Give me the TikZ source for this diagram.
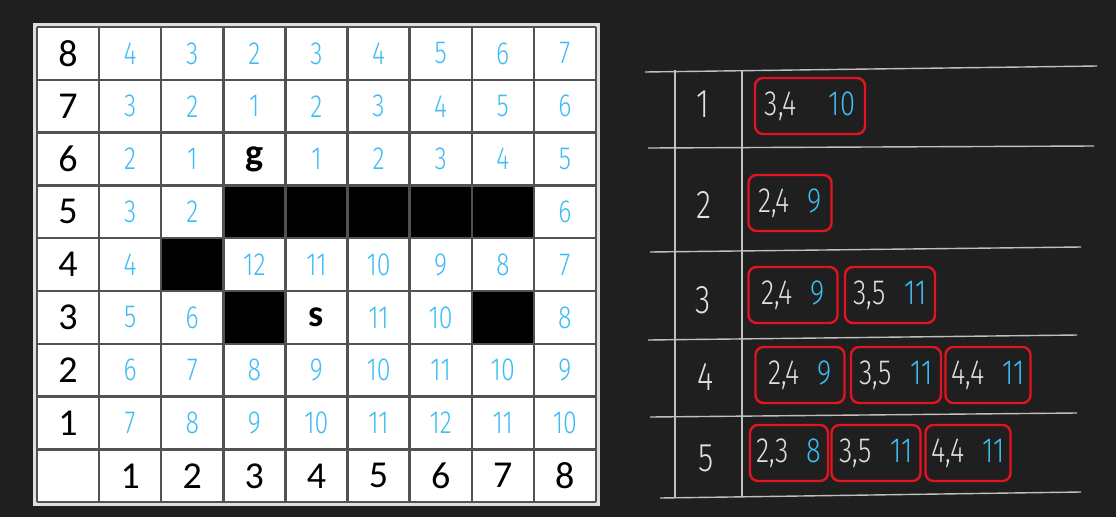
\documentclass[tikz,border=0pt]{standalone}
\usepackage{fontspec}
\setmainfont{Carlito}
\newfontfamily\hand{Fira Sans}[UprightFont=* Light, FakeStretch=0.78]
\usetikzlibrary{positioning}

\definecolor{board}{RGB}{31,31,31}
\definecolor{penblue}{RGB}{62,188,245}
\definecolor{penred}{RGB}{226,20,32}
\definecolor{penwhite}{RGB}{225,225,225}
\definecolor{rulegray}{RGB}{192,192,192}
\definecolor{gridgray}{RGB}{82,82,82}

% one queue entry: cell, then its cost
\newcommand{\entry}[3][18pt]{{\color{penwhite}#2}\hspace{#1}{\color{penblue}#3}}

\begin{document}
\begin{tikzpicture}[x=1pt, y=-1pt, node distance=90pt,
                    cost/.style={text=penblue, inner sep=0pt, font=\hand\fontsize{32}{32}\selectfont},
                    axis/.style={text=black, inner sep=0pt, font=\fontsize{38}{38}\selectfont},
                    letter/.style={text=black, inner sep=0pt, font=\bfseries\fontsize{38}{38}\selectfont},
                    wall/.style={fill=black},
                    gridline/.style={draw=gridgray, line width=2.4pt},
                    tabline/.style={draw=rulegray, line width=1.4pt},
                    stepnum/.style={text=penwhite, font=\hand\fontsize{40}{40}\selectfont},
                    pair/.style={draw=penred, line width=2.4pt, rounded corners=8pt,
                                 minimum height=56pt, minimum width=#1, inner xsep=6pt,
                                 font=\hand\fontsize{35}{35}\selectfont},
                    pair/.default=86pt]
  \fill[board] (0,0) rectangle (1116,517);

  % grid with costs
  \fill[gray!25] (33,23) rectangle (600,506);
  \fill[white] (37,27) rectangle (596,502);
  \begin{scope}[shift={(37,27)}, x=62.1pt, y=-52.8pt]
    \foreach \c/\r in {3/3,4/3,5/3,6/3,7/3,2/4,3/5,7/5}
      \fill[wall] (\c,\r) rectangle ++(1,1);
    \foreach \i in {0,...,9} {
      \draw[gridline] (\i,0) -- (\i,9);
      \draw[gridline] (0,\i) -- (9,\i);
    }
    \foreach \k in {1,...,8} {
      \node[axis] (row\k) at (0.5,8.5-\k) {\k};
      \node[axis] (col\k) at (\k+0.5,8.5) {\k};
    }
    \foreach \r/\vals in {0/{4,3,2,3,4,5,6,7}, 1/{3,2,1,2,3,4,5,6},
                          2/{2,1,0,1,2,3,4,5}, 3/{3,2,0,0,0,0,0,6},
                          4/{4,0,12,11,10,9,8,7}, 5/{5,6,0,0,11,10,0,8},
                          6/{6,7,8,9,10,11,10,9}, 7/{7,8,9,10,11,12,11,10}}
      \foreach \v [count=\c] in \vals {
        \ifnum\v>0 \node[cost] (cost-\c-\r) at (\c+0.5,\r+0.5) {\v};\fi
      };
    \node[letter] (goal) at (3.5,2.5) {g};
    \node[letter] (start) at (4.5,5.5) {s};
  \end{scope}

  % table of queue states
  \draw[tabline] (645,72) -- (1097,66);
  \draw[tabline] (648,148) -- (1094,146);
  \draw[tabline] (650,252) -- (1081,247);
  \draw[tabline] (648,340) -- (1077,335);
  \draw[tabline] (650,417) -- (1077,413);
  \draw[tabline] (660,498) -- (1081,492);
  \draw[tabline] (675,70) -- (675,497);
  \draw[tabline] (742,70) -- (742,496);

  \node[stepnum] (step1) at (703,104) {1};
  \node[stepnum] (step2) at (704,205) {2};
  \node[stepnum] (step3) at (703,300) {3};
  \node[stepnum] (step4) at (706,377) {4};
  \node[stepnum] (step5) at (706,458) {5};

  \node[pair=110pt] (q1a) at (810,106) {\entry[32pt]{3,4}{10}};
  \node[pair=83pt] (q2a) at (790,203) {\entry{2,4}{9}};
  \node[pair=89pt] (q3a) at (793,295) {\entry{2,4}{9}};
  \node[pair=90pt, right of=q3a, node distance=97pt] (q3b) {\entry{3,5}{11}};
  \node[pair=89pt] (q4a) at (800,375) {\entry{2,4}{9}};
  \node[pair=90pt, right of=q4a, node distance=96pt] (q4b) {\entry{3,5}{11}};
  \node[pair=80pt, right of=q4b, node distance=92pt] (q4c) {\entry{4,4}{11}};
  \node[pair=78pt] (q5a) at (789,453) {\entry{2,3}{8}};
  \node[pair=89pt, right of=q5a, node distance=87pt] (q5b) {\entry{3,5}{11}};
  \node[pair=80pt, right of=q5b, node distance=92pt] (q5c) {\entry{4,4}{11}};
\end{tikzpicture}
\end{document}
